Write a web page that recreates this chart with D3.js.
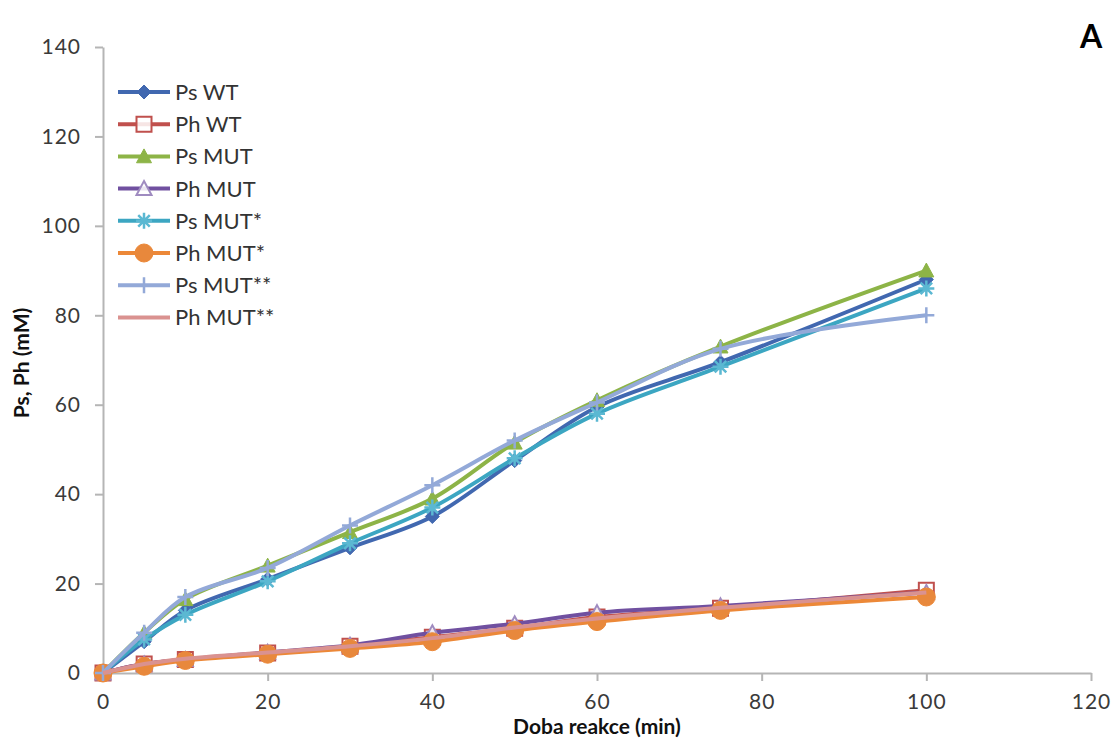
<!DOCTYPE html>
<html>
<head>
<meta charset="utf-8">
<script src="https://cdn.jsdelivr.net/npm/d3@7"></script>
<style>
  html, body { margin: 0; padding: 0; background: #fff; }
  svg { display: block; }
  text { font-family: Lato, "DejaVu Sans", sans-serif; }
</style>
</head>
<body>
<svg id="chart" width="1114" height="740"></svg>
<script>
// Reaction time points (min)
const times = [0, 5, 10, 20, 30, 40, 50, 60, 75, 100];

// Product concentrations (mM)
const psWT    = [0, 7.0, 14.0, 21.0, 28.0, 35.0, 47.5, 59.5, 69.5, 88.0];
const phWT    = [0, 2.0, 3.0, 4.5, 6.0, 8.0, 10.0, 12.5, 14.5, 18.5];
const psMUT   = [0, 9.0, 16.5, 24.0, 31.5, 39.0, 51.5, 61.0, 73.0, 90.0];
const phMUT   = [0, 2.0, 3.0, 4.6, 6.2, 9.0, 11.0, 13.5, 15.0, 18.0];
const psMUT1  = [0, 7.5, 13.0, 20.5, 29.0, 37.0, 48.0, 58.0, 68.5, 86.0];
const phMUT1  = [0, 1.5, 2.8, 4.2, 5.5, 7.0, 9.5, 11.5, 14.0, 17.0];
const psMUT2  = [0, 9.0, 17.0, 23.5, 33.0, 42.0, 52.0, 60.5, 72.5, 80.0];
const phMUT2  = [0, 2.0, 3.2, 4.6, 6.0, 7.8, 10.2, 12.2, 14.6, 18.0];

const seriesNames = ["Ps WT", "Ph WT", "Ps MUT", "Ph MUT", "Ps MUT*", "Ph MUT*", "Ps MUT**", "Ph MUT**"];
const seriesValues = [psWT, phWT, psMUT, phMUT, psMUT1, phMUT1, psMUT2, phMUT2];

const xTicks = [0, 20, 40, 60, 80, 100, 120];
const yTicks = [0, 20, 40, 60, 80, 100, 120, 140];

// Visual style per series
const styles = [
  { color: "#4168B0", marker: "diamond",  fill: "#4168B0" },
  { color: "#C0504D", marker: "square",   fill: "#fff" },
  { color: "#8DB447", marker: "triangle", fill: "#8DB447" },
  { color: "#7050A0", marker: "triangle", fill: "#fff", markerStroke: "#9F8BC0" },
  { color: "#3CA6C2", marker: "asterisk", fill: "none", markerStroke: "#5BB8D2" },
  { color: "#EC8838", marker: "circle",   fill: "#E8883C" },
  { color: "#93A9D8", marker: "plus",     fill: "none" },
  { color: "#DA9290", marker: "none",     fill: "none" }
];

const svg = d3.select("#chart");
const plot = { left: 103, right: 1091, top: 47, bottom: 673 };

const x = d3.scaleLinear().domain([0, 120]).range([plot.left, plot.right]);
const y = d3.scaleLinear().domain([0, 140]).range([plot.bottom, plot.top]);

const axisColor = "#B5B5B5";
const tickTextColor = "#3A3A3A";

// Y axis
const yAxis = svg.append("g")
  .attr("transform", `translate(${plot.left},0)`)
  .call(d3.axisLeft(y).tickValues(yTicks).tickSize(8).tickSizeOuter(0).tickPadding(14));
// X axis
const xAxis = svg.append("g")
  .attr("transform", `translate(0,${plot.bottom})`)
  .call(d3.axisBottom(x).tickValues(xTicks).tickSize(8).tickSizeOuter(0).tickPadding(13));

[yAxis, xAxis].forEach(g => {
  g.select(".domain").attr("stroke", axisColor).attr("stroke-width", 2);
  g.selectAll(".tick line").attr("stroke", axisColor).attr("stroke-width", 2);
  g.selectAll(".tick text")
    .attr("fill", tickTextColor)
    .style("font-size", "21px")
    .style("letter-spacing", "1px");
});

// Marker shapes
function markerPath(type, s) {
  const h = s / 2;
  switch (type) {
    case "diamond":
      return `M0,${-h}L${h},0L0,${h}L${-h},0Z`;
    case "square":
      return `M${-h},${-h}H${h}V${h}H${-h}Z`;
    case "triangle":
      return `M0,${-h}L${h},${h * 0.85}L${-h},${h * 0.85}Z`;
    case "circle":
      return d3.symbol(d3.symbolCircle, Math.PI * h * h)();
    case "asterisk": {
      const a = h * 0.72;
      return `M${-h},0H${h}M${-a},${-a}L${a},${a}M${-a},${a}L${a},${-a}M0,${-h}V${h}`;
    }
    case "plus":
      return `M${-h},0H${h}M0,${-h}V${h}`;
    default:
      return "";
  }
}
const markerSize = { diamond: 14, square: 15, triangle: 15, circle: 18, asterisk: 16, plus: 16, none: 0 };

function drawMarker(g, st, px, py) {
  if (st.marker === "none") return;
  const p = g.append("path")
    .attr("d", markerPath(st.marker, markerSize[st.marker]))
    .attr("transform", `translate(${px},${py})`);
  if (st.marker === "asterisk" || st.marker === "plus") {
    p.attr("fill", "none").attr("stroke", st.markerStroke || st.color).attr("stroke-width", 2.5);
  } else if (st.fill === "#fff") {
    p.attr("fill", "#fff").attr("fill-opacity", 0.85)
      .attr("stroke", st.markerStroke || st.color).attr("stroke-width", 2);
  } else {
    p.attr("fill", st.fill).attr("stroke", st.color).attr("stroke-width", 1);
  }
}

const line = d3.line()
  .x(d => x(d[0]))
  .y(d => y(d[1]))
  .curve(d3.curveCatmullRom.alpha(0.5));

// Series: each line followed by its markers
const seriesG = svg.append("g");
seriesValues.forEach((vals, i) => {
  const st = styles[i];
  const pts = times.map((t, k) => [t, vals[k]]);
  const g = seriesG.append("g");
  g.append("path")
    .datum(pts)
    .attr("d", line)
    .attr("fill", "none")
    .attr("stroke", st.color)
    .attr("stroke-width", 4)
    .attr("stroke-linejoin", "round");
  pts.forEach(p => drawMarker(g, st, x(p[0]), y(p[1])));
});

// Legend
const legend = svg.append("g");
seriesNames.forEach((name, i) => {
  const st = styles[i];
  const ly = 92 + i * 32.2;
  const g = legend.append("g");
  g.append("line")
    .attr("x1", 118).attr("x2", 170)
    .attr("y1", ly).attr("y2", ly)
    .attr("stroke", st.color).attr("stroke-width", 4);
  drawMarker(g, st, 144, ly);
  g.append("text")
    .attr("x", 175).attr("y", ly)
    .attr("dy", "0.36em")
    .attr("fill", "#333")
    .style("font-size", "22px")
    .text(name);
});

// Axis titles
svg.append("text")
  .attr("x", (plot.left + plot.right) / 2)
  .attr("y", 734)
  .attr("text-anchor", "middle")
  .attr("fill", "#111")
  .style("font-size", "21px")
  .style("font-weight", "bold")
  .text("Doba reakce (min)");

svg.append("text")
  .attr("transform", `translate(29,363) rotate(-90)`)
  .attr("text-anchor", "middle")
  .attr("fill", "#111")
  .style("font-size", "21px")
  .style("font-weight", "bold")
  .text("Ps, Ph (mM)");

// Panel letter
svg.append("text")
  .attr("x", 1091).attr("y", 48)
  .attr("text-anchor", "middle")
  .attr("fill", "#000")
  .style("font-size", "32px")
  .style("font-weight", "bold")
  .text("A");
</script>
</body>
</html>
